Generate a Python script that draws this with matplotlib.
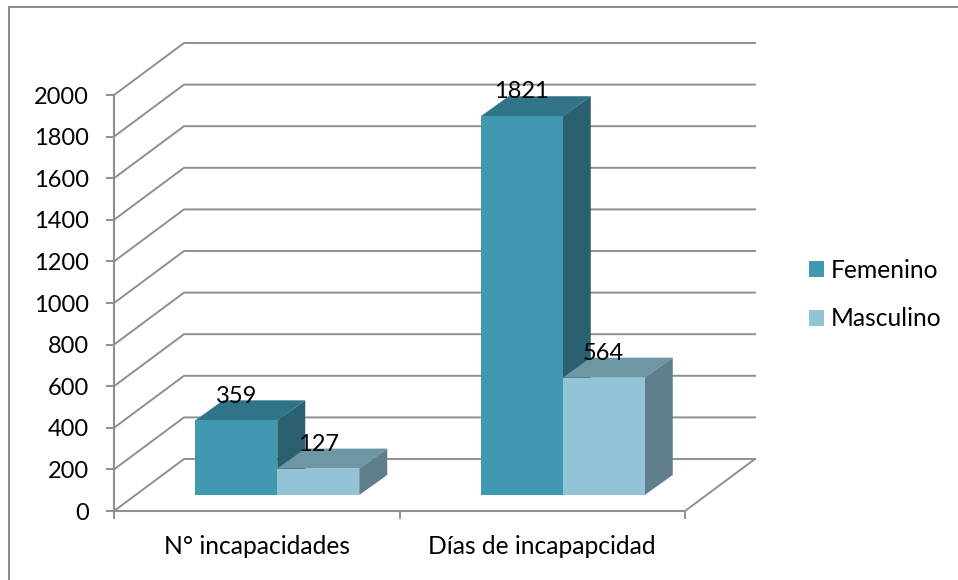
import matplotlib
matplotlib.use("Agg")
import matplotlib.pyplot as plt
from matplotlib.lines import Line2D
from matplotlib.patches import Polygon, Patch

categories = ["N° incapacidades", "Días de incapapcidad"]
series_names = ["Femenino", "Masculino"]
femenino = [359, 1821]
masculino = [127, 564]
yticks = list(range(0, 2001, 200))

W, H = 958, 580
plt.rcParams['font.family'] = ['Lato', 'DejaVu Sans']
FS = 17.7
FS_NUM = 17.0
GRID = '#8f8f8f'

fig = plt.figure(figsize=(W / 100, H / 100), dpi=100)
fig.patch.set_facecolor('white')
fig.add_artist(Line2D([8.5 / W, 8.5 / W, 1], [0, 1 - 6.5 / H, 1 - 6.5 / H], transform=fig.transFigure,
                      color='#8a8a8a', lw=1.4, solid_joinstyle='miter'))

ax = fig.add_axes([114 / W, 1 - 511 / H, 571 / W, 416 / H])
ax.set_xlim(0, 2)
ax.set_ylim(0, 2000)
ax.patch.set_alpha(0)

px_x = 2 / 571
px_y = 2000 / 416
wall_dx, wall_dy = 70 * px_x, 52 * px_y
floor_dx, floor_dy = 20.5 * px_x, 16 * px_y
depth_dx, depth_dy = 28 * px_x, 20 * px_y
bar_w = 82 * px_x

for v in yticks:
    ax.plot([0, wall_dx, 2 + wall_dx], [v, v + wall_dy, v + wall_dy], color=GRID, lw=1.4,
            clip_on=False, zorder=1, solid_joinstyle='miter')
ax.plot([2, 2 + wall_dx], [0, wall_dy], color=GRID, lw=1.4, clip_on=False, zorder=1)

styles = [
    (femenino, -1, '#4198b1', '#30748a', '#2a6070'),
    (masculino, 0, '#93c3d6', '#6e97a5', '#5e7f8b'),
]
for name, (vals, sign, front, top, side) in zip(series_names, styles):
    for i, v in enumerate(vals):
        c = i + 0.5 + floor_dx
        x0 = c + sign * bar_w
        x1 = x0 + bar_w
        y0 = floor_dy
        y1 = floor_dy + v
        ax.bar(x0, v, bar_w, bottom=y0, align='edge', color=front, clip_on=False, zorder=3)
        ax.add_patch(Polygon([(x0, y1), (x1, y1), (x1 + depth_dx, y1 + depth_dy), (x0 + depth_dx, y1 + depth_dy)],
                             closed=True, facecolor=top, edgecolor='none', clip_on=False, zorder=2))
        ax.add_patch(Polygon([(x1, y0), (x1, y1), (x1 + depth_dx, y1 + depth_dy), (x1 + depth_dx, y0 + depth_dy)],
                             closed=True, facecolor=side, edgecolor='none', clip_on=False, zorder=2))
        ax.annotate(str(v), xy=(x0 + bar_w / 2, y1), xytext=(0, 17.5), textcoords='offset points',
                    ha='center', va='center', fontsize=FS_NUM, color='black', zorder=6, annotation_clip=False)

for s in ['top', 'right']:
    ax.spines[s].set_visible(False)
for s in ['left', 'bottom']:
    ax.spines[s].set_color(GRID)
    ax.spines[s].set_linewidth(1.5)

ax.set_yticks(yticks)
ax.set_yticklabels([str(v) for v in yticks], fontsize=FS_NUM, color='black')
ax.set_xticks([0, 1, 2])
ax.set_xticklabels([])
ax.set_xticks([0.5, 1.5], minor=True)
ax.set_xticklabels(categories, minor=True, fontsize=FS, color='black')
ax.tick_params(axis='y', length=6, width=1.4, color=GRID, pad=12)
ax.tick_params(axis='x', which='major', length=6, width=1.4, color=GRID)
ax.tick_params(axis='x', which='minor', length=0, pad=17.5)

handles = [Patch(facecolor=styles[0][2], label=series_names[0]),
           Patch(facecolor=styles[1][2], label=series_names[1])]
fig.legend(handles=handles, loc='center left', bbox_to_anchor=(809 / W, 1 - 294.5 / H), frameon=False,
           fontsize=FS, handlelength=0.61, handleheight=0.61, handletextpad=0.28, labelspacing=1.05,
           borderpad=0, borderaxespad=0)

fig.savefig('out.png', dpi=100)
